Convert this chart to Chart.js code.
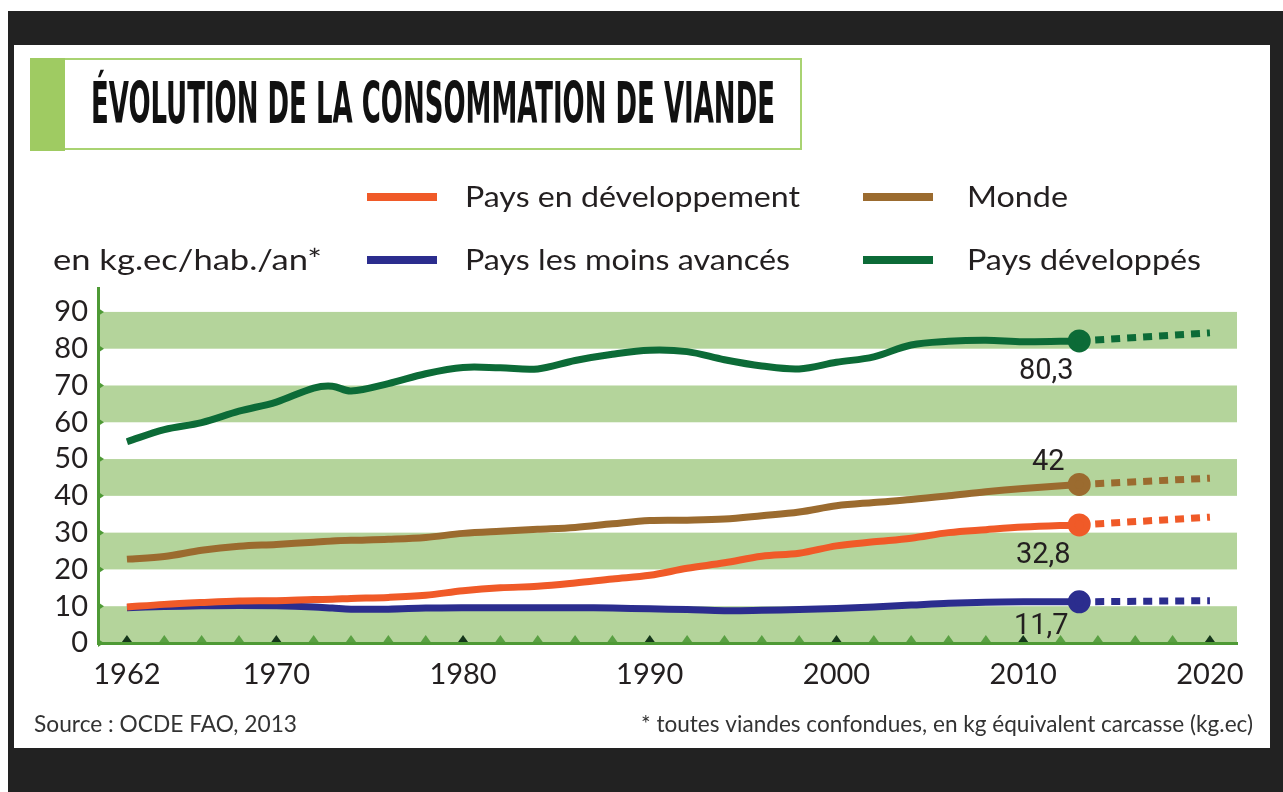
<!DOCTYPE html>
<html lang="fr">
<head>
<meta charset="utf-8">
<title>Évolution de la consommation de viande</title>
<script src="https://cdn.jsdelivr.net/npm/chart.js@4.4.0/dist/chart.umd.min.js"></script>
<style>
  html, body { margin: 0; padding: 0; background: #fff; }
  body { width: 1283px; height: 792px; position: relative; overflow: hidden; }
  #frame { position: absolute; left: 8px; top: 11px; right: 0; bottom: 0; background: #222; }
  #panel { position: absolute; left: 14px; top: 45px; width: 1256px; height: 703px; background: #fff; }
  #titlebox { position: absolute; left: 30px; top: 58px; width: 770px; height: 88px; border: 2.5px solid #a9d372; border-left: none; }
  #titlebar { position: absolute; left: 30px; top: 58px; width: 35px; height: 93px; background: #9fcb62; }
  #chart { position: absolute; left: 0; top: 0; }
</style>
</head>
<body>
<div id="frame"></div>
<div id="panel"></div>
<div id="titlebox"></div>
<div id="titlebar"></div>
<canvas id="chart" width="1283" height="792"></canvas>

<script>
// valeurs (kg équivalent carcasse / habitant / an)
const years = [1962, 1964, 1966, 1968, 1970, 1972, 1973, 1974, 1976, 1978, 1980, 1982, 1984,
  1986, 1988, 1990, 1992, 1994, 1996, 1998, 2000, 2002, 2004, 2006, 2008, 2010, 2013];

const paysDev = [9.8, 10.5, 11.0, 11.4, 11.5, 11.8, 11.9, 12.1, 12.4, 13.0, 14.2, 15.0, 15.4,
  16.3, 17.4, 18.4, 20.3, 21.8, 23.6, 24.4, 26.4, 27.5, 28.5, 30.0, 30.8, 31.5, 32.1];
const monde = [22.8, 23.5, 25.2, 26.3, 26.8, 27.4, 27.7, 27.9, 28.2, 28.7, 29.8, 30.4, 30.9,
  31.4, 32.4, 33.3, 33.4, 33.7, 34.6, 35.6, 37.3, 38.2, 39.0, 40.0, 41.1, 42.0, 43.1];
const moinsAvances = [9.6, 9.9, 10.1, 10.2, 10.1, 9.8, 9.5, 9.2, 9.2, 9.5, 9.6, 9.6, 9.6,
  9.6, 9.5, 9.3, 9.1, 8.8, 8.9, 9.1, 9.4, 9.8, 10.3, 10.8, 11.1, 11.2, 11.2];
const developpes = [54.7, 58.0, 59.9, 63.0, 65.5, 69.3, 69.8, 68.5, 70.5, 73.2, 74.9, 74.8, 74.5,
  76.8, 78.5, 79.6, 79.2, 77.0, 75.3, 74.5, 76.3, 77.8, 81.0, 82.0, 82.3, 81.9, 82.1];

// projections (pointillés) 2013 -> 2020
const projYears = [2013, 2020];
const paysDevProj = [32.1, 34.2];
const mondeProj = [43.1, 44.8];
const moinsAvancesProj = [11.2, 11.5];
const developpesProj = [82.1, 84.3];

const seriesLabels = ["Pays en développement", "Monde", "Pays les moins avancés", "Pays développés"];
const endLabels = ["32,8", "42", "11,7", "80,3"];

const xTickYears = [1962, 1970, 1980, 1990, 2000, 2010, 2020];
const yTicks = [0, 10, 20, 30, 40, 50, 60, 70, 80, 90];
const minorYears = [];
for (let y = 1962; y <= 2020; y += 2) minorYears.push(y);

const colors = ["#f05a28", "#9b6b2f", "#2b2d8e", "#0c6b37"];
const BAND = "#b4d49b";
const AXIS_GREEN = "#4e9a35";
const TXT = "#231f20";

function pts(xs, ys) {
  return xs.map((x, i) => ({ x: x, y: ys[i] }));
}

const mainSeries = [paysDev, monde, moinsAvances, developpes];
const projSeries = [paysDevProj, mondeProj, moinsAvancesProj, developpesProj];

const datasets = [];
mainSeries.forEach((vals, i) => {
  datasets.push({
    label: seriesLabels[i],
    data: pts(years, vals),
    borderColor: colors[i],
    backgroundColor: colors[i],
    borderWidth: 7,
    tension: 0.35,
    pointRadius: (ctx) => (ctx.dataIndex === years.length - 1 ? 8 : 0),
    pointHoverRadius: 0,
    fill: false,
  });
});
projSeries.forEach((vals, i) => {
  datasets.push({
    label: seriesLabels[i] + " (projection)",
    data: pts(projYears, vals),
    borderColor: colors[i],
    borderWidth: 7,
    borderDash: [9, 7],
    borderCapStyle: "butt",
    pointRadius: 0,
    fill: false,
  });
});

// texte ajusté à une largeur donnée
function fitText(ctx, text, x, y, width) {
  const w = ctx.measureText(text).width;
  ctx.save();
  ctx.translate(x, y);
  ctx.scale(width / w, 1);
  ctx.textAlign = "left";
  ctx.fillText(text, 0, 0);
  ctx.restore();
}

const decorPlugin = {
  id: "decor",
  beforeDraw(chart) {
    const { ctx, chartArea } = chart;
    const ys = chart.scales.y;
    ctx.save();
    ctx.fillStyle = BAND;
    for (let v = 0; v < 90; v += 20) {
      const top = ys.getPixelForValue(v + 10);
      const bot = ys.getPixelForValue(v);
      ctx.fillRect(chartArea.left, top, chartArea.right - chartArea.left, bot - top);
    }
    ctx.restore();
  },
  afterDraw(chart) {
    const { ctx, chartArea } = chart;
    const xs = chart.scales.x;
    const ys = chart.scales.y;
    ctx.save();

    // petits triangles des axes
    ctx.fillStyle = AXIS_GREEN;
    yTicks.forEach((v) => {
      const py = ys.getPixelForValue(v);
      ctx.beginPath();
      ctx.moveTo(chartArea.left, py - 4);
      ctx.lineTo(chartArea.left + 6, py);
      ctx.lineTo(chartArea.left, py + 4);
      ctx.fill();
    });
    minorYears.forEach((yr) => {
      const px = xs.getPixelForValue(yr);
      ctx.fillStyle = xTickYears.includes(yr) ? "#15361a" : "#5aa043";
      ctx.beginPath();
      ctx.moveTo(px - 5, chartArea.bottom - 1);
      ctx.lineTo(px, chartArea.bottom - 8);
      ctx.lineTo(px + 5, chartArea.bottom - 1);
      ctx.fill();
    });

    // valeurs 2013
    ctx.fillStyle = TXT;
    ctx.font = "29px Roboto";
    ctx.textAlign = "center";
    ctx.textBaseline = "middle";
    const offsets = [[-36, 31], [-31, -22], [-38, 25], [-33, 31]];
    for (let i = 0; i < 4; i++) {
      const meta = chart.getDatasetMeta(i);
      const p = meta.data[meta.data.length - 1];
      ctx.fillText(endLabels[i], p.x + offsets[i][0], p.y + offsets[i][1]);
    }

    // titre
    ctx.textBaseline = "alphabetic";
    ctx.fillStyle = "#111";
    ctx.font = "bold 57px 'DejaVu Sans Condensed', 'DejaVu Sans'";
    fitText(ctx, "ÉVOLUTION DE LA CONSOMMATION DE VIANDE", 91, 123, 684);

    // légende
    ctx.font = "29px Lato";
    ctx.fillStyle = TXT;
    const legend = [
      { i: 0, sx: 367, tx: 465, y: 197, w: 335 },
      { i: 1, sx: 863, tx: 967, y: 197, w: 101 },
      { i: 2, sx: 367, tx: 465, y: 260, w: 325 },
      { i: 3, sx: 863, tx: 967, y: 260, w: 234 },
    ];
    legend.forEach((l) => {
      ctx.fillStyle = colors[l.i];
      ctx.fillRect(l.sx, l.y - 4, 70, 8);
      ctx.fillStyle = TXT;
      fitText(ctx, seriesLabels[l.i], l.tx, l.y + 10, l.w);
    });
    fitText(ctx, "en kg.ec/hab./an*", 53, 270, 269);

    // sources
    ctx.font = "23px Lato";
    ctx.fillStyle = "#333";
    fitText(ctx, "Source : OCDE FAO, 2013", 34, 732, 263);
    fitText(ctx, "* toutes viandes confondues, en kg équivalent carcasse (kg.ec)", 641, 732, 612);
    ctx.restore();
  },
};

new Chart(document.getElementById("chart"), {
  type: "line",
  data: { datasets: datasets },
  options: {
    responsive: false,
    animation: false,
    devicePixelRatio: 1,
    layout: { padding: { left: 38, right: 46, top: 288, bottom: 89 } },
    plugins: {
      legend: { display: false },
      title: { display: false },
      tooltip: { enabled: false },
    },
    scales: {
      x: {
        type: "linear",
        min: 1960.45,
        max: 2021.45,
        afterBuildTicks: (s) => { s.ticks = xTickYears.map((v) => ({ value: v })); },
        afterFit: (s) => { s.height = 60; },
        grid: { display: false, drawTicks: false },
        border: { display: true, color: AXIS_GREEN, width: 3 },
        ticks: {
          color: TXT,
          font: { family: "Lato", size: 29 },
          padding: 14,
          maxRotation: 0,
          autoSkip: false,
          callback: (v) => String(v),
        },
      },
      y: {
        min: 0,
        max: 96.5,
        afterBuildTicks: (s) => { s.ticks = yTicks.map((v) => ({ value: v })); },
        afterFit: (s) => { s.width = 60; },
        grid: { display: false, drawTicks: false },
        border: { display: true, color: AXIS_GREEN, width: 3 },
        ticks: {
          color: TXT,
          font: { family: "Lato", size: 29 },
          padding: 10,
          callback: (v) => String(v),
        },
      },
    },
  },
  plugins: [decorPlugin],
});
</script>
</body>
</html>
